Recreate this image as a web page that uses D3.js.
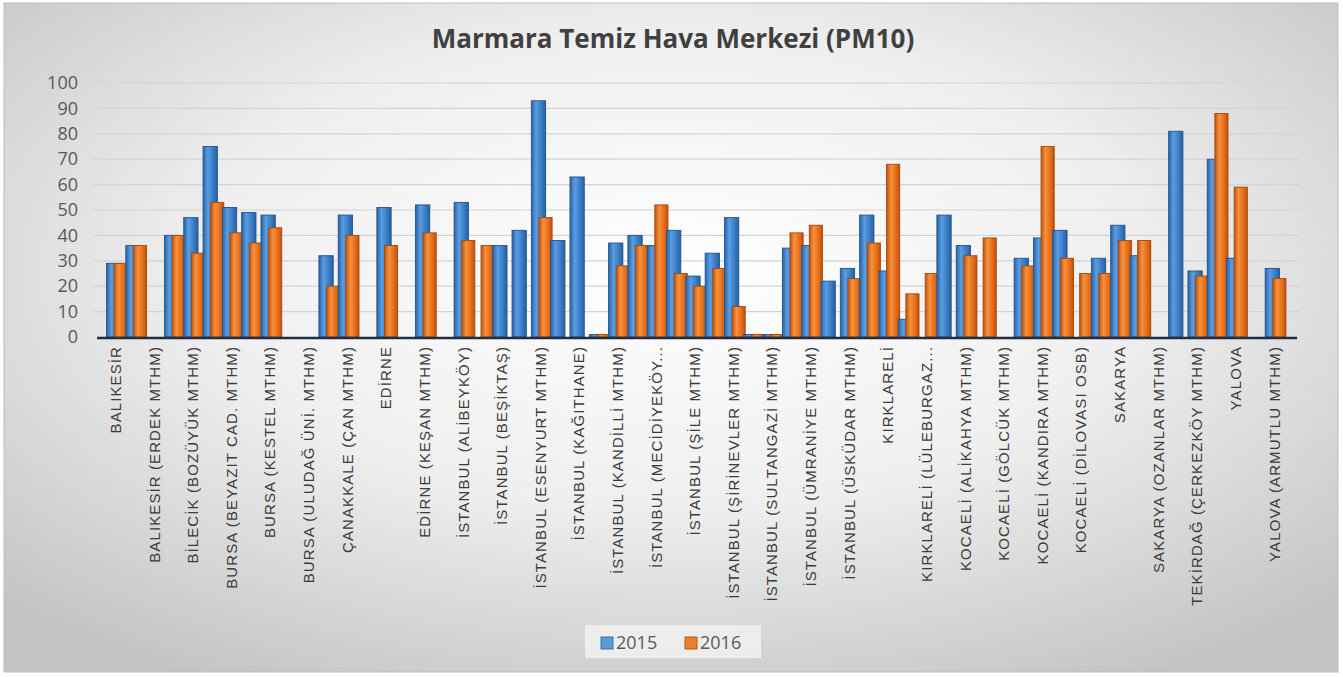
<!DOCTYPE html>
<html>
<head>
<meta charset="utf-8">
<script src="https://cdn.jsdelivr.net/npm/d3@7"></script>
<style>
body{margin:0;background:#fff}
</style>
</head>
<body>
<div id="graph"></div>
<script>
// station names (only every second category has a visible label)
let stations=["BALIKESİR","BALIKESİR (ERDEK MTHM)","BİLECİK (BOZÜYÜK MTHM)","BURSA (BEYAZIT CAD. MTHM)","BURSA (KESTEL MTHM)",
"BURSA (ULUDAĞ ÜNİ. MTHM)","ÇANAKKALE (ÇAN MTHM)","EDİRNE","EDİRNE (KEŞAN MTHM)","İSTANBUL (ALİBEYKÖY)",
"İSTANBUL (BEŞİKTAŞ)","İSTANBUL (ESENYURT MTHM)","İSTANBUL (KAĞITHANE)","İSTANBUL (KANDİLLİ MTHM)","İSTANBUL (MECİDİYEKÖY...",
"İSTANBUL (ŞİLE MTHM)","İSTANBUL (ŞİRİNEVLER MTHM)","İSTANBUL (SULTANGAZİ MTHM)","İSTANBUL (ÜMRANİYE MTHM)","İSTANBUL (ÜSKÜDAR MTHM)",
"KIRKLARELİ","KIRKLARELİ (LÜLEBURGAZ...","KOCAELİ (ALİKAHYA MTHM)","KOCAELİ (GÖLCÜK MTHM)","KOCAELİ (KANDIRA MTHM)",
"KOCAELİ (DİLOVASI OSB)","SAKARYA","SAKARYA (OZANLAR MTHM)","TEKİRDAĞ (ÇERKEZKÖY MTHM)","YALOVA","YALOVA (ARMUTLU MTHM)"]

let series=["2015","2016"]

let v2015=[29,36,0,40,47,75,51,49,48,0,0,32,48,0,51,0,52,0,53,0,36,42,93,38,63,1,37,40,36,42,24,33,47,1,1,35,36,22,27,48,26,7,0,48,36,0,0,31,39,42,0,31,44,32,0,81,26,70,31,0,27]
let v2016=[29,36,0,40,33,53,41,37,43,0,0,20,40,0,36,0,41,0,38,36,0,0,47,0,0,1,28,36,52,25,20,27,12,1,1,41,44,0,23,37,68,17,25,0,32,39,0,28,75,31,25,25,38,38,0,0,24,88,59,0,23]

let yTicks=[0,10,20,30,40,50,60,70,80,90,100]

const W=1343,H=677
let svg=d3.select("#graph").append("svg")
.attr("width",W).attr("height",H)
.style("display","block")

let defs=svg.append("defs")
let bg=defs.append("radialGradient").attr("id","bg")
.attr("cx","50%").attr("cy","40%").attr("r","70%")
bg.append("stop").attr("offset","0%").attr("stop-color","#ffffff")
bg.append("stop").attr("offset","50%").attr("stop-color","#efefef")
bg.append("stop").attr("offset","100%").attr("stop-color","#c4c4c4")

//bar shading
const grad=(id,cols)=>{
  let g=defs.append("linearGradient").attr("id",id).attr("x1","0%").attr("x2","100%").attr("y1","0%").attr("y2","0%")
  cols.forEach((c,i)=>g.append("stop").attr("offset",(i*100/(cols.length-1))+"%").attr("stop-color",c))
}
grad("gBlue",["#2864a8","#5a9de2","#3c80ca","#285f9f"])
grad("gOrange",["#c1530d","#f7913c","#e8711c","#bf520d"])

svg.append("rect")
.attr("x",4).attr("y",3).attr("width",W-9).attr("height",H-8)
.attr("fill","url(#bg)").attr("stroke","#bdbdbd")

//title
svg.append("text")
.attr("x",673).attr("y",48)
.attr("text-anchor","middle")
.style("font-family","'Open Sans',sans-serif")
.style("font-weight","bold")
.style("font-size","26px")
.style("fill","#404040")
.text("Marmara Temiz Hava Merkezi (PM10)")

// scales
let x=d3.scaleBand().domain(d3.range(v2015.length)).range([106,1284])
let y=d3.scaleLinear().domain([0,100]).range([337,83])

//grid
svg.append("g").selectAll("line").data(yTicks.slice(1)).enter().append("line")
.attr("x1",93).attr("x2",1300)
.attr("y1",d=>y(d)).attr("y2",d=>y(d))
.attr("stroke","#d4d4d4").attr("stroke-width",1.2)

//y axis
let yAxis=d3.axisLeft(y).tickValues(yTicks).tickSize(0).tickPadding(0)
let ya=svg.append("g").attr("transform","translate(78,0)").call(yAxis)
ya.select(".domain").remove()
ya.selectAll("text")
.style("font-family","'Open Sans',sans-serif")
.style("font-size","18px")
.style("fill","#595959")

// bars, drawn category by category so the next blue sits on the previous orange
let bw=x.bandwidth()
let bars=svg.append("g")
d3.range(v2015.length).forEach(i=>{
  if(v2015[i]>0){
    bars.append("rect")
    .attr("x",x(i)+0.5).attr("width",bw*0.74)
    .attr("y",y(v2015[i])).attr("height",y(0)-y(v2015[i]))
    .attr("fill","url(#gBlue)").attr("stroke","#23538c").attr("stroke-width",0.9)
  }
  if(v2016[i]>0){
    bars.append("rect")
    .attr("x",x(i)+bw*0.42).attr("width",bw*0.68)
    .attr("y",y(v2016[i])).attr("height",y(0)-y(v2016[i]))
    .attr("fill","url(#gOrange)").attr("stroke","#a5470b").attr("stroke-width",0.9)
  }
})

//baseline
svg.append("line")
.attr("x1",97).attr("x2",1297).attr("y1",y(0)+1).attr("y2",y(0)+1)
.attr("stroke","#1e2f44").attr("stroke-width",2.6)

//x axis labels
let xAxis=d3.axisBottom(x).tickSize(0)
.tickFormat(i=>i%2==0?stations[i/2]:"")
let xa=svg.append("g").attr("transform","translate(0,"+(y(0)+9)+")").call(xAxis)
xa.select(".domain").remove()
xa.selectAll("text")
.attr("transform","rotate(-90)")
.attr("text-anchor","end")
.attr("x",0).attr("y",0).attr("dy","0.35em")
.style("font-family","'Liberation Sans',Arial,sans-serif")
.style("font-size","15px")
.style("letter-spacing","1.1px")
.style("fill","#3a3a3a")

//legend
let lg=svg.append("g").attr("transform","translate(585,625)")
lg.append("rect").attr("width",176).attr("height",33).attr("fill","#f3f3f3").attr("opacity",0.8)
let cols=[["#5b9bd5","#3d6fa3"],["#ed7d31","#b25a1d"]]
series.forEach((s,i)=>{
  let gx=16+i*84
  lg.append("rect").attr("x",gx).attr("y",12).attr("width",12).attr("height",12)
  .attr("fill",cols[i][0]).attr("stroke",cols[i][1])
  lg.append("text").attr("x",gx+15).attr("y",24)
  .style("font-family","'Open Sans',sans-serif").style("font-size","18px").style("fill","#595959")
  .text(s)
})
</script>
</body>
</html>
